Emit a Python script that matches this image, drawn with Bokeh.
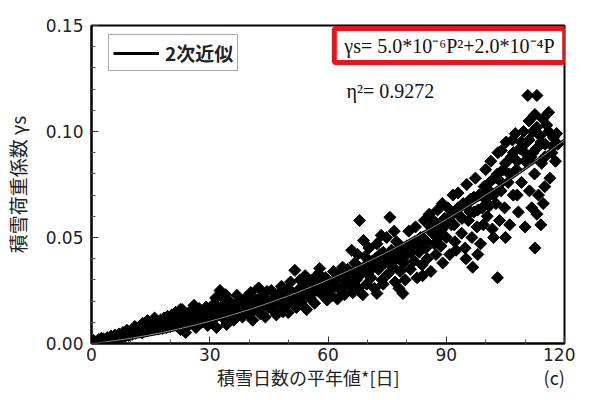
from bokeh.plotting import figure
from bokeh.models import FixedTicker, PrintfTickFormatter, Label, Range1d
from bokeh.embed import file_html
from bokeh.resources import INLINE
import math

# snow-cover days (x) and snow load coefficient (y)
snow_days = [
    0, 0.3, 0.8, 1.2, 1.6, 2.0, 2.4, 2.9, 3.3, 3.8, 4.2, 4.6, 5.1, 5.5, 5.9, 6.4, 6.8, 7.2, 7.7, 8.1, 8.5, 9.0, 9.4, 9.8,
    0.5, 1.0, 2.5, 3.5,
    10.3, 10.7, 11.2, 11.6, 12.0, 12.4, 12.9, 13.3, 13.7, 14.2, 14.5, 15.0, 15.4, 15.8, 16.3, 16.7, 17.1, 17.6, 18.0, 18.4, 18.9, 19.3, 19.7, 20.0,
    20.4, 20.8, 21.3, 21.7, 22.2, 22.6, 23.0, 23.5, 23.9, 24.3, 24.8, 25.2, 25.6, 26.0, 26.5, 26.9, 27.3, 27.8, 28.2, 28.6, 29.1, 29.5, 29.9, 23.0,
    30.3, 30.8, 31.2, 31.7, 32.1, 32.6, 33.0, 33.4, 33.9, 34.3, 34.8, 35.2, 35.6, 36.1, 36.5, 36.9, 37.4, 37.8, 38.3, 38.7, 39.1, 39.6, 40.0, 31.5, 34.0,
    40.4, 40.9, 41.3, 41.7, 42.4, 42.8, 43.2, 43.7, 44.1, 44.5, 45.0, 45.6, 46.0, 46.4, 46.9, 47.3, 47.8, 48.2, 48.6, 49.1, 49.5, 49.9, 50.0,
    50.5, 50.9, 51.6, 52.0, 52.4, 52.9, 53.3, 53.7, 54.2, 54.6, 55.0, 55.5, 55.9, 56.3, 56.6, 57.2, 57.6, 57.9, 58.5, 58.9, 59.4, 59.8, 60.0,
    60.5, 61.0, 61.4, 61.9, 62.4, 62.8, 63.3, 63.7, 64.2, 64.6, 65.0, 65.5, 65.9, 66.3, 66.8, 67.2, 67.7, 68.0, 68.5, 69.0, 69.4, 69.8, 70.0, 66.0, 67.5, 68.8,
    70.4, 70.9, 71.3, 71.8, 72.4, 72.4, 72.8, 73.2, 73.7, 74.0, 74.5, 74.9, 75.3, 75.7, 76.1, 76.6, 77.0, 77.4, 77.9, 78.3, 78.8, 79.0, 79.2, 79.6, 80.0, 73.5, 76.8, 78.0,
    80.5, 80.9, 81.3, 81.8, 82.2, 82.6, 83.1, 83.5, 83.9, 84.4, 84.8, 85.2, 85.7, 86.1, 86.5, 87.0, 87.4, 87.8, 88.3, 88.7, 89.1, 89.6, 90.0, 84.0, 86.8, 89.0,
    90.4, 90.9, 91.3, 91.7, 92.2, 92.5, 93.0, 93.5, 93.9, 94.3, 94.8, 95.2, 95.6, 96.1, 96.5, 96.7, 97.0, 97.4, 97.8, 98.3, 98.7, 99.1, 99.6, 100.0, 95.0, 98.0, 92.0, 99.4,
    100.4, 100.9, 101.3, 101.7, 102.2, 102.6, 103.0, 103.1, 103.5, 103.9, 104.0, 104.4, 104.8, 105.2, 105.7, 106.1, 106.5, 107.0, 107.5, 107.8, 108.3, 108.7, 109.1, 109.6, 110.0, 101.0, 105.0, 106.8, 108.0, 102.0,
    110.4, 110.7, 111.1, 111.5, 111.7, 112.0, 112.4, 112.5, 112.5, 112.9, 113.0, 113.0, 113.4, 113.8, 114.2, 114.6, 115.1, 115.5, 116.0, 116.3, 116.8, 117.2, 117.7, 118.3, 110.0, 114.0, 111.0, 115.0,
] + [
    1.8, 3.0, 4.0, 5.0, 6.0, 7.0, 8.0, 9.0,
    11.0, 13.0, 14.0, 16.0, 17.0, 19.0, 20.0, 18.0,
    21.0, 22.0, 24.0, 25.0, 26.0, 27.0, 28.0, 29.0, 30.0, 22.5,
    31.0, 32.0, 33.0, 35.0, 36.0, 37.0, 38.0, 39.0, 40.0,
    41.0, 42.0, 43.0, 44.0, 45.0, 46.0, 47.0, 48.0, 49.0, 50.0,
    51.0, 52.0, 53.0, 54.0, 55.0, 56.0, 57.0, 58.0, 59.0, 60.0,
    61.0, 62.0, 63.0, 64.0, 65.0, 66.0, 67.0, 68.0, 69.0, 70.0, 71.0,
    72.0, 73.0, 74.0, 75.0, 76.0, 77.0, 78.0, 79.0, 80.0,
    81.0, 82.0, 83.0, 84.0, 85.0, 86.0, 87.0, 88.0, 89.0, 90.0,
    91.0, 92.0, 93.0, 94.0, 95.0, 96.0, 97.0, 98.0, 99.0, 100.0,
    101.0, 102.0, 103.0, 104.0, 105.0, 106.0, 107.0, 108.0, 109.0, 110.0,
    111.0, 112.0, 113.0, 114.0, 115.0, 116.0, 117.0, 118.0, 114.5,
]
snow_coef = [
    0.0, 0.0005, 0.0002, 0.0008, 0.0004, 0.0012, 0.0007, 0.0015, 0.0010, 0.0018, 0.0013, 0.0022, 0.0017, 0.0027, 0.0020, 0.0031, 0.0024, 0.0036, 0.0028, 0.0041, 0.0033, 0.0047, 0.0038, 0.0052,
    0.0015, 0.0, 0.0025, 0.0003,
    0.0043, 0.0060, 0.0049, 0.0068, 0.0055, 0.0075, 0.0050, 0.0082, 0.0063, 0.0108, 0.0071, 0.0090, 0.0066, 0.0098, 0.0078, 0.0105, 0.0085, 0.0112, 0.0072, 0.0120, 0.0093, 0.0128, 0.0100, 0.0080,
    0.0135, 0.0108, 0.0146, 0.0088, 0.0122, 0.0065, 0.0140, 0.0100, 0.0052, 0.0128, 0.0090, 0.0155, 0.0112, 0.0180, 0.0075, 0.0140, 0.0165, 0.0098, 0.0150, 0.0120, 0.0172, 0.0085, 0.0135, 0.0160,
    0.0160, 0.0110, 0.0190, 0.0075, 0.0145, 0.0250, 0.0175, 0.0120, 0.0205, 0.0090, 0.0160, 0.0195, 0.0135, 0.0110, 0.0180, 0.0227, 0.0150, 0.0200, 0.0125, 0.0170, 0.0215, 0.0140, 0.0185, 0.0215, 0.0230,
    0.0240, 0.0110, 0.0160, 0.0205, 0.0262, 0.0140, 0.0225, 0.0180, 0.0125, 0.0245, 0.0195, 0.0250, 0.0160, 0.0215, 0.0135, 0.0235, 0.0185, 0.0270, 0.0150, 0.0220, 0.0255, 0.0146, 0.0190,
    0.0290, 0.0210, 0.0345, 0.0170, 0.0250, 0.0300, 0.0195, 0.0235, 0.0320, 0.0160, 0.0270, 0.0215, 0.0300, 0.0245, 0.0190, 0.0280, 0.0330, 0.0354, 0.0230, 0.0265, 0.0310, 0.0205, 0.0250,
    0.0290, 0.0225, 0.0340, 0.0270, 0.0210, 0.0310, 0.0250, 0.0360, 0.0230, 0.0295, 0.0350, 0.0270, 0.0320, 0.0240, 0.0380, 0.0300, 0.0260, 0.0580, 0.0340, 0.0486, 0.0410, 0.0280, 0.0360, 0.0440, 0.0420, 0.0230,
    0.0450, 0.0310, 0.0390, 0.0260, 0.0470, 0.0236, 0.0350, 0.0420, 0.0300, 0.0280, 0.0380, 0.0500, 0.0330, 0.0595, 0.0440, 0.0360, 0.0290, 0.0480, 0.0400, 0.0340, 0.0450, 0.0236, 0.0380, 0.0300, 0.0420, 0.0510, 0.0530, 0.0260,
    0.0530, 0.0350, 0.0460, 0.0390, 0.0550, 0.0310, 0.0430, 0.0500, 0.0370, 0.0580, 0.0450, 0.0400, 0.0610, 0.0340, 0.0520, 0.0470, 0.0420, 0.0630, 0.0550, 0.0460, 0.0380, 0.0590, 0.0500, 0.0320, 0.0580, 0.0660,
    0.0640, 0.0420, 0.0560, 0.0700, 0.0480, 0.0440, 0.0710, 0.0600, 0.0520, 0.0660, 0.0450, 0.0750, 0.0580, 0.0680, 0.0500, 0.0360, 0.0620, 0.0780, 0.0550, 0.0700, 0.0470, 0.0640, 0.0740, 0.0820, 0.0400, 0.0420, 0.0620, 0.0560,
    0.0600, 0.0720, 0.0860, 0.0540, 0.0780, 0.0660, 0.0310, 0.0900, 0.0580, 0.0720, 0.0910, 0.0820, 0.0640, 0.0950, 0.0760, 0.0560, 0.0880, 0.0700, 0.0990, 0.0820, 0.0620, 0.0920, 0.0760, 0.1000, 0.0860, 0.0650, 0.0500, 0.0960, 0.0700, 0.0500,
    0.0950, 0.1170, 0.0720, 0.0880, 0.0640, 0.1000, 0.0800, 0.1080, 0.0450, 0.0920, 0.1170, 0.0610, 0.0700, 0.0980, 0.0850, 0.0660, 0.0940, 0.1030, 0.1090, 0.0780, 0.0900, 0.0970, 0.0860, 0.0940, 0.0550, 0.0560, 0.1050, 0.0740,
] + [
    0.0018, 0.0022, 0.0028, 0.0035, 0.0040, 0.0045, 0.0052, 0.0062,
    0.0080, 0.0095, 0.0088, 0.0120, 0.0070, 0.0075, 0.0110, 0.0100,
    0.0120, 0.0100, 0.0110, 0.0130, 0.0150, 0.0120, 0.0130, 0.0150, 0.0140, 0.0160,
    0.0130, 0.0170, 0.0150, 0.0170, 0.0150, 0.0190, 0.0160, 0.0180, 0.0160,
    0.0190, 0.0170, 0.0200, 0.0210, 0.0170, 0.0190, 0.0200, 0.0230, 0.0180, 0.0220,
    0.0240, 0.0220, 0.0260, 0.0280, 0.0240, 0.0270, 0.0250, 0.0290, 0.0280, 0.0300,
    0.0280, 0.0300, 0.0330, 0.0270, 0.0310, 0.0290, 0.0340, 0.0320, 0.0360, 0.0330, 0.0350,
    0.0400, 0.0370, 0.0430, 0.0400, 0.0380, 0.0420, 0.0440, 0.0410, 0.0460,
    0.0430, 0.0480, 0.0460, 0.0500, 0.0480, 0.0550, 0.0520, 0.0500, 0.0540, 0.0570,
    0.0600, 0.0560, 0.0640, 0.0590, 0.0650, 0.0620, 0.0690, 0.0630, 0.0700, 0.0680,
    0.0760, 0.0700, 0.0800, 0.0760, 0.0850, 0.0800, 0.0900, 0.0860, 0.0950, 0.0900,
    0.0960, 0.0900, 0.1020, 0.0950, 0.0880, 0.1000, 0.0930, 0.0990, 0.1060,
]

# quadratic fit coefficients stated on the chart
fit_a = 5.0e-6
fit_b = 2.0e-4
fit_days = [i * 2 for i in range(61)]
fit_coef = [fit_a * d * d + fit_b * d for d in fit_days]

x_ticks = [0, 30, 60, 90, 120]
x_minor = [10, 20, 40, 50, 70, 80, 100, 110]
y_ticks = [0.0, 0.05, 0.10, 0.15]
y_minor = [0.01, 0.02, 0.03, 0.04, 0.06, 0.07, 0.08, 0.09, 0.11, 0.12, 0.13, 0.14]

JP = "Noto Sans CJK JP"
SERIF = "Liberation Serif"
SANS = "DejaVu Sans"
IDSP = "\u3000"

p = figure(width=575, height=392, output_backend="svg", toolbar_location=None,
           x_range=Range1d(0, 120), y_range=Range1d(0, 0.15),
           min_border_left=82, min_border_right=11, min_border_top=25, min_border_bottom=47)
p.grid.visible = False
p.outline_line_color = "black"
p.outline_line_width = 2
p.background_fill_color = "white"
p.border_fill_color = "white"

p.line(fit_days, fit_coef, line_color="black", line_width=3, legend_label="2次近似")
p.scatter(snow_days, snow_coef, marker="square", size=8.5, angle=math.pi / 4,
          fill_color="black", line_color="black")
p.line(fit_days, fit_coef, line_color="#8a8a8a", line_width=1)

for ax in (p.xaxis[0], p.yaxis[0]):
    ax.axis_line_color = "black"
    ax.axis_line_width = 2
    ax.major_tick_in = 7
    ax.major_tick_out = 0
    ax.minor_tick_in = 4
    ax.minor_tick_out = 0
    ax.major_tick_line_color = "#333"
    ax.minor_tick_line_color = "#555"
    ax.major_label_text_font = SANS
    ax.major_label_text_font_size = "17px"
    ax.major_label_text_color = "#222"
    ax.axis_label_text_font = JP
    ax.axis_label_text_font_style = "normal"
    ax.axis_label_text_color = "#222"

p.xaxis.ticker = FixedTicker(ticks=x_ticks, minor_ticks=x_minor)
p.yaxis.ticker = FixedTicker(ticks=y_ticks, minor_ticks=y_minor)
p.yaxis.formatter = PrintfTickFormatter(format="%.2f")
p.xaxis.major_label_standoff = 4
p.yaxis.major_label_standoff = 8
p.xaxis.axis_label = IDSP * 7 + "積雪日数の平年値*[日]" + IDSP * 8 + "(c)"
p.yaxis.axis_label = "積雪荷重係数 γs"
p.xaxis.axis_label_text_font_size = "18px"
p.yaxis.axis_label_text_font_size = "19px"
p.xaxis.axis_label_standoff = 0
p.yaxis.axis_label_standoff = 12

lg = p.legend[0]
lg.location = (17, 272)
lg.label_text_font = JP
lg.label_text_font_style = "bold"
lg.label_text_font_size = "19px"
lg.label_text_color = "#222"
lg.glyph_width = 46
lg.glyph_height = 20
lg.label_height = 20
lg.padding = 4
lg.margin = 0
lg.spacing = 0
lg.label_standoff = 6
lg.border_line_color = "#555"
lg.border_line_width = 1.5
lg.background_fill_alpha = 1

p.add_layout(Label(x=358, y=298, x_units="screen", y_units="screen",
                   text="γs= 5.0*10⁻⁶P²+2.0*10⁻⁴P", text_font=SERIF, text_font_size="20px",
                   text_align="center", text_baseline="middle", text_color="#111",
                   border_line_color="#e8141c", border_line_width=5,
                   background_fill_color="white",
                   padding=dict(left=10, right=10, top=6, bottom=6)))
p.add_layout(Label(x=255, y=253, x_units="screen", y_units="screen",
                   text="η²= 0.9272", text_font=SERIF, text_font_size="20px",
                   text_align="left", text_baseline="middle", text_color="#111"))

open("out.html", "w").write(file_html(p, INLINE))
